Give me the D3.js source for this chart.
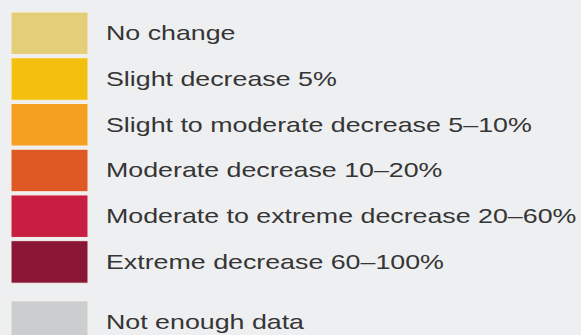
<!DOCTYPE html>
<html>
<head>
<meta charset="utf-8">
<script src="https://cdn.jsdelivr.net/npm/d3@7"></script>
<style>
  html, body { margin: 0; padding: 0; background: #eeeff1; }
  #legend text { font-family: "Liberation Sans", Arial, sans-serif; }
</style>
</head>
<body>
<div id="legend"></div>
<script>
// legend classes (decrease in value)
const categories = [
    "No change",
    "Slight decrease 5%",
    "Slight to moderate decrease 5–10%",
    "Moderate decrease 10–20%",
    "Moderate to extreme decrease 20–60%",
    "Extreme decrease 60–100%"
];
const colors = ["#e4ce79", "#f4c010", "#f5a020", "#de5924", "#c81e42", "#891634"];

const noDataLabel = "Not enough data";
const noDataColor = "#cbcdce";

(() => {
    const width = 581, height = 335, margin = { top: 12, left: 11 };
    const swatchW = 77, step = 45.2, textX = 106, textScale = 1.34;

    document.addEventListener("DOMContentLoaded", () => {
        const svg = d3.select("#legend")
            .append("svg")
            .attr("width", width)
            .attr("height", height);

        svg.append("rect")
            .attr("width", width)
            .attr("height", height)
            .attr("fill", "#eeeff1");

        const y = d3.scaleBand()
            .domain(categories)
            .range([margin.top, margin.top + step * categories.length])
            .paddingInner(0.07)
            .paddingOuter(0);

        const color = d3.scaleOrdinal()
            .domain(categories)
            .range(colors);

        const rows = categories.map(c => ({ label: c, y: y(c), fill: color(c) }));
        // the grey class sits apart from the scale, one step plus a gap below
        rows.push({ label: noDataLabel, y: y(categories[categories.length - 1]) + step + 15, fill: noDataColor });

        const g = svg.append("g");

        g.selectAll(".swatch")
            .data(rows)
            .enter()
            .append("rect")
            .attr("class", "swatch")
            .attr("x", margin.left)
            .attr("y", d => d.y)
            .attr("width", swatchW)
            .attr("height", y.bandwidth())
            .attr("fill", d => d.fill)
            .attr("stroke", "#f6f1ea")
            .attr("stroke-width", 1);

        g.selectAll(".label")
            .data(rows)
            .enter()
            .append("text")
            .attr("class", "label")
            .attr("transform", d => `translate(${textX},${d.y + y.bandwidth() / 2}) scale(${textScale},1)`)
            .attr("dy", "0.35em")
            .text(d => d.label)
            .style("font-size", "20px")
            .style("fill", "#353535");
    });
})();
</script>
</body>
</html>
